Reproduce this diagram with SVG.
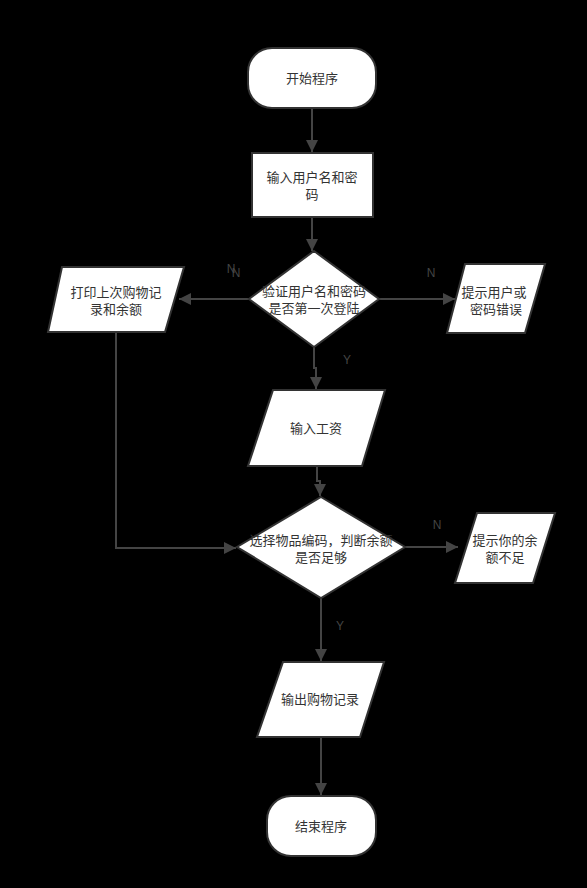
<svg xmlns="http://www.w3.org/2000/svg" width="587" height="888" viewBox="0 0 587 888">
<style>
.shape{fill:#fff;stroke:#333;stroke-width:2}
.t{font-family:"Noto Sans CJK SC","Noto Sans",sans-serif;font-size:13px;fill:#333;text-anchor:middle}
.lbl{font-family:"Liberation Sans","Noto Sans",sans-serif;font-size:12px;fill:#444;text-anchor:middle}
.c{fill:none;stroke:#444;stroke-width:2}
</style>
<defs>
<marker id="ah" viewBox="0 0 10 10" refX="10" refY="5" markerWidth="6" markerHeight="6" markerUnits="strokeWidth" orient="auto">
<path d="M0,0 L10,5 L0,10 Z" fill="#444"/>
</marker>
</defs>
<rect width="587" height="888" fill="#000"/>
<g id="connectors">
<path class="c" d="M312,108 V152" marker-end="url(#ah)"/>
<path class="c" d="M312,217 V251" marker-end="url(#ah)"/>
<path class="c" d="M249,299 H179" marker-end="url(#ah)"/>
<path class="c" d="M379,299 H455" marker-end="url(#ah)"/>
<path class="c" d="M314,347 V368 H316 V389" marker-end="url(#ah)"/>
<path class="c" d="M317,466 V481 H320 V496" marker-end="url(#ah)"/>
<path class="c" d="M116,332 V548 H236" marker-end="url(#ah)"/>
<path class="c" d="M405,547 H458" marker-end="url(#ah)"/>
<path class="c" d="M321,598 V661" marker-end="url(#ah)"/>
<path class="c" d="M321,737 V795" marker-end="url(#ah)"/>
<text class="lbl" x="231" y="273">N</text>
<text class="lbl" x="236" y="277">N</text>
<text class="lbl" x="431" y="277">N</text>
<text class="lbl" x="347" y="364">Y</text>
<text class="lbl" x="437" y="529">N</text>
<text class="lbl" x="340" y="630">Y</text>
</g>
<g id="start">
<rect class="shape" x="248" y="48" width="128" height="60" rx="24" ry="24"/>
<text class="t" x="312" y="83">开始程序</text>
</g>
<g id="input-user">
<rect class="shape" x="252" y="153" width="121" height="64"/>
<text class="t" x="312" y="182">输入用户名和密</text>
<text class="t" x="312" y="199">码</text>
</g>
<g id="verify">
<path class="shape" d="M314,251 L379,299 L314,347 L249,299 Z"/>
<text class="t" x="314" y="296">验证用户名和密码</text>
<text class="t" x="314" y="313">是否第一次登陆</text>
</g>
<g id="print-history">
<path class="shape" d="M62,267 L184,267 L165,332 L48,332 Z"/>
<text class="t" x="116" y="297">打印上次购物记</text>
<text class="t" x="116" y="314">录和余额</text>
</g>
<g id="error">
<path class="shape" d="M465,264 L545,264 L525,333 L447,333 Z"/>
<text class="t" x="494" y="297">提示用户或</text>
<text class="t" x="496" y="314">密码错误</text>
</g>
<g id="salary">
<path class="shape" d="M273,390 L385,390 L362,466 L248,466 Z"/>
<text class="t" x="316" y="433">输入工资</text>
</g>
<g id="choose">
<path class="shape" d="M321,497 L405,547 L321,598 L237,547 Z"/>
<text class="t" x="321" y="545">选择物品编码，判断余额</text>
<text class="t" x="321" y="562">是否足够</text>
</g>
<g id="insufficient">
<path class="shape" d="M477,513 L555,513 L533,583 L455,583 Z"/>
<text class="t" x="505" y="545">提示你的余</text>
<text class="t" x="505" y="562">额不足</text>
</g>
<g id="output">
<path class="shape" d="M283,662 L384,662 L360,737 L257,737 Z"/>
<text class="t" x="320" y="704">输出购物记录</text>
</g>
<g id="end">
<rect class="shape" x="267" y="796" width="109" height="60" rx="24" ry="24"/>
<text class="t" x="321" y="831">结束程序</text>
</g>
</svg>
